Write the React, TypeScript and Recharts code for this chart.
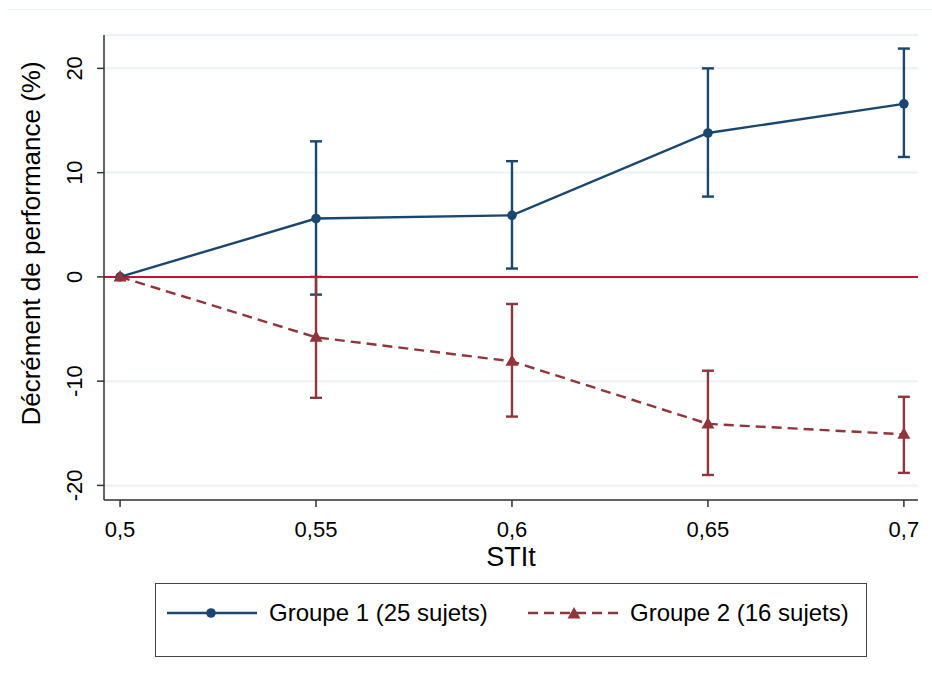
import {
  CartesianGrid,
  ErrorBar,
  Line,
  LineChart,
  ReferenceLine,
  XAxis,
  YAxis,
} from "recharts";

const NAVY = "#1a476f";
const MAROON = "#90353b";
const ZERO_RED = "#cc0f35";
const GRID = "#eaf2f3";
const AXIS = "#333333";
const FONT = "'Liberation Sans', Arial, Helvetica, sans-serif";

// STIt values on the x axis
const stit = [0.5, 0.55, 0.6, 0.65, 0.7];

// Groupe 1 (25 sujets): mean decrement and error bar bounds
const g1Mean = [0, 5.6, 5.9, 13.8, 16.6];
const g1Low = [null, -1.7, 0.8, 7.7, 11.5];
const g1High = [null, 13.0, 11.1, 20.0, 21.9];

// Groupe 2 (16 sujets)
const g2Mean = [0, -5.8, -8.1, -14.1, -15.1];
const g2Low = [null, -11.6, -13.4, -19.0, -18.8];
const g2High = [null, 0, -2.6, -9.0, -11.5];

const xTicks = [0.5, 0.55, 0.6, 0.65, 0.7];
const yTicks = [-20, -10, 0, 10, 20];

const data = stit.map((x, i) => ({
  x,
  g1: g1Mean[i],
  g1Err: g1Low[i] == null ? null : [g1Mean[i] - g1Low[i]!, g1High[i]! - g1Mean[i]],
  g2: g2Mean[i],
  g2Err: g2Low[i] == null ? null : [g2Mean[i] - g2Low[i]!, g2High[i]! - g2Mean[i]],
}));

const fmt = (v: number) => String(v).replace(".", ",");

function YTick({ x, y, payload }: any) {
  return (
    <text
      x={x - 15}
      y={y}
      textAnchor="middle"
      fontSize={22}
      fill="#000"
      transform={`rotate(-90, ${x - 15}, ${y})`}
    >
      {payload.value}
    </text>
  );
}

function YTitle({ viewBox }: any) {
  const cx = viewBox.x + 40;
  const cy = viewBox.y + viewBox.height / 2 - 24;
  return (
    <text
      x={cx}
      y={cy}
      textAnchor="middle"
      fontSize={26}
      fill="#000"
      transform={`rotate(-90, ${cx}, ${cy})`}
    >
      Décrément de performance (%)
    </text>
  );
}

function Triangle({ cx, cy, color }: any) {
  if (cx == null || cy == null) return null;
  return (
    <path
      d={`M${cx},${cy - 7} L${cx + 6.5},${cy + 4.5} L${cx - 6.5},${cy + 4.5} Z`}
      fill={color}
      stroke="none"
    />
  );
}

function LegendItem({ color, dashed, marker, label }: any) {
  return (
    <div style={{ display: "flex", alignItems: "center" }}>
      <svg width={90} height={20} style={{ display: "block" }}>
        <line
          x1={0}
          y1={10}
          x2={90}
          y2={10}
          stroke={color}
          strokeWidth={2.4}
          strokeDasharray={dashed ? "10 6" : undefined}
        />
        {marker === "circle" ? (
          <circle cx={44} cy={10} r={4.8} fill={color} />
        ) : (
          <Triangle cx={46} cy={11} color={color} />
        )}
      </svg>
      <span style={{ marginLeft: 12, fontSize: 24, color: "#000" }}>{label}</span>
    </div>
  );
}

export default function App() {
  return (
    <div
      style={{
        position: "absolute",
        left: 0,
        top: 0,
        width: 932,
        height: 681,
        background: "#fff",
        fontFamily: FONT,
      }}
    >
      <div
        style={{
          position: "absolute",
          left: 7,
          right: 0,
          top: 9,
          height: 0,
          borderTop: `1px solid ${GRID}`,
        }}
      />
      <LineChart
        width={932}
        height={681}
        data={data}
        margin={{ top: 35, right: 14, left: 0, bottom: 0 }}
      >
        <CartesianGrid
          horizontal
          vertical={false}
          stroke={GRID}
          strokeWidth={2}
        />
        <XAxis
          dataKey="x"
          type="number"
          domain={[0.4959, 0.7036]}
          ticks={xTicks}
          allowDataOverflow
          height={181}
          tickFormatter={fmt}
          tick={{ fill: "#000", fontSize: 22 }}
          tickSize={7}
          tickMargin={14}
          axisLine={{ stroke: AXIS, strokeWidth: 1.5 }}
          tickLine={{ stroke: AXIS, strokeWidth: 1.5 }}
          label={{
            value: "STIt",
            position: "insideTop",
            offset: 47,
            fontSize: 27,
            fill: "#000",
          }}
        />
        <YAxis
          type="number"
          domain={[-21.4, 23.2]}
          ticks={yTicks}
          allowDataOverflow
          width={104}
          tick={<YTick />}
          tickSize={7}
          tickMargin={0}
          axisLine={{ stroke: AXIS, strokeWidth: 1.5 }}
          tickLine={{ stroke: AXIS, strokeWidth: 1.5 }}
          label={<YTitle />}
        />
        <Line
          dataKey="g1"
          stroke={NAVY}
          strokeWidth={2.4}
          dot={{ r: 4.8, fill: NAVY, stroke: NAVY, strokeWidth: 0 }}
          activeDot={false}
          isAnimationActive={false}
        >
          <ErrorBar
            dataKey="g1Err"
            direction="y"
            width={6}
            stroke={NAVY}
            strokeWidth={2.4}
            isAnimationActive={false}
          />
        </Line>
        <Line
          dataKey="g2"
          stroke={MAROON}
          strokeWidth={2.4}
          strokeDasharray="10 6"
          dot={(p: any) => <Triangle key={p.index} cx={p.cx} cy={p.cy} color={MAROON} />}
          activeDot={false}
          isAnimationActive={false}
        >
          <ErrorBar
            dataKey="g2Err"
            direction="y"
            width={6}
            stroke={MAROON}
            strokeWidth={2.4}
            isAnimationActive={false}
          />
        </Line>
        <ReferenceLine y={0} stroke={ZERO_RED} strokeWidth={2} />
      </LineChart>
      <div
        style={{
          position: "absolute",
          left: 155,
          top: 583,
          width: 712,
          height: 74,
          border: "1.5px solid #444",
          boxSizing: "border-box",
        }}
      >
        <div style={{ position: "absolute", left: 11, top: 15 }}>
          <LegendItem color={NAVY} marker="circle" label="Groupe 1 (25 sujets)" />
        </div>
        <div style={{ position: "absolute", left: 372, top: 15 }}>
          <LegendItem color={MAROON} dashed marker="triangle" label="Groupe 2 (16 sujets)" />
        </div>
      </div>
    </div>
  );
}
